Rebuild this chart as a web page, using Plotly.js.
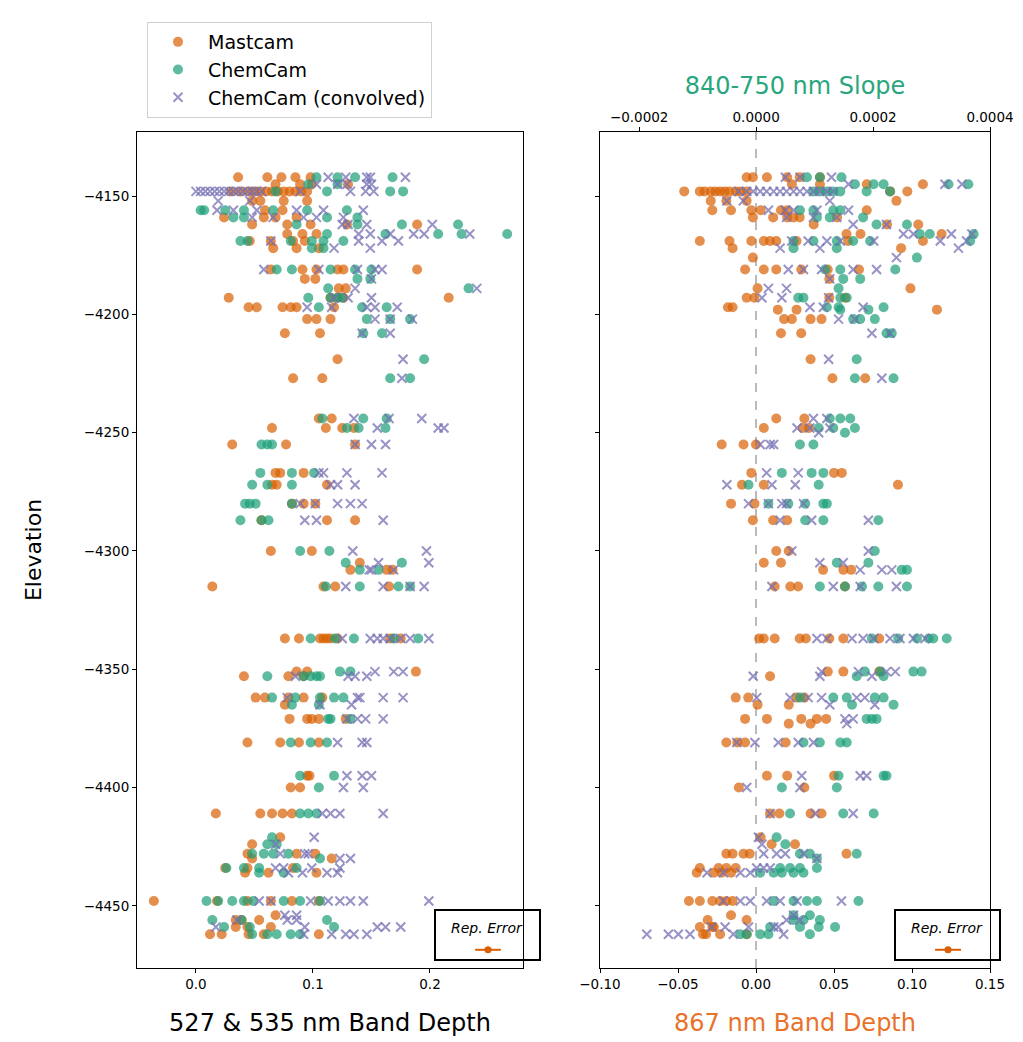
<!DOCTYPE html>
<html>
<head>
<meta charset="utf-8">
<script src="https://cdn.plot.ly/plotly-3.0.1.min.js"></script>
<style>html,body{margin:0;padding:0;background:#fff;}#chart{width:1023px;height:1042px;}</style>
</head>
<body>
<div id="chart"></div>
<script>
// ---- DATA: rows of [elevation, [values at that elevation]] ----
// Left panel: 527 & 535 nm band depth
const mastcamBD527 = [
[-4142,[0.036,0.061,0.073,0.085,0.098]],
[-4145,[0.068,0.089,0.099,0.130]],
[-4148,[0.030,0.038,0.045,0.050,0.055,0.060,0.065,0.070,0.075,0.080,0.085,0.090,0.095]],
[-4152,[0.048,0.055,0.075,0.095]],
[-4156,[0.059,0.074]],
[-4159,[0.024,0.058,0.068,0.086]],
[-4162,[0.048,0.078,0.098,0.129,0.189]],
[-4166,[0.078,0.091,0.103]],
[-4169,[0.046,0.064,0.083,0.093]],
[-4172,[0.066,0.086,0.105]],
[-4181,[0.064,0.091,0.103,0.121,0.126,0.189]],
[-4185,[0.093,0.102]],
[-4189,[0.122,0.128]],
[-4193,[0.028,0.115,0.121,0.126,0.216]],
[-4197,[0.045,0.052,0.074,0.081,0.086,0.118]],
[-4202,[0.095,0.103,0.115]],
[-4208,[0.076,0.106]],
[-4219,[0.121]],
[-4227,[0.083,0.108]],
[-4244,[0.105,0.116]],
[-4248,[0.065,0.111,0.125,0.135]],
[-4255,[0.031,0.077,0.136]],
[-4267,[0.068,0.072,0.092]],
[-4272,[0.065,0.069,0.112]],
[-4280,[0.082,0.092,0.102]],
[-4287,[0.056,0.112,0.136]],
[-4300,[0.064,0.099]],
[-4305,[0.140]],
[-4308,[0.132,0.163,0.168]],
[-4315,[0.014,0.109,0.119,0.165]],
[-4337,[0.076,0.088,0.106,0.109,0.112,0.115,0.121,0.166,0.175]],
[-4351,[0.086,0.095,0.188]],
[-4353,[0.041,0.079,0.092]],
[-4362,[0.051,0.059,0.079,0.092,0.108]],
[-4365,[0.076]],
[-4371,[0.080,0.095,0.099,0.105,0.128]],
[-4381,[0.044,0.072,0.088,0.105]],
[-4395,[0.095,0.097]],
[-4400,[0.081,0.089]],
[-4411,[0.017,0.055,0.065,0.074,0.082]],
[-4421,[0.072]],
[-4424,[0.048]],
[-4428,[0.044,0.086,0.102]],
[-4430,[0.048,0.116]],
[-4434,[0.025,0.044,0.083]],
[-4436,[0.042,0.062,0.103]],
[-4448,[-0.036,0.018,0.044,0.064,0.082,0.105]],
[-4454,[0.068]],
[-4456,[0.034,0.039,0.054]],
[-4459,[0.034,0.044,0.064]],
[-4462,[0.012,0.022,0.045,0.058,0.105]]
];
const chemcamBD527 = [
[-4142,[0.103,0.121,0.136,0.168]],
[-4145,[0.096,0.121]],
[-4148,[0.068,0.112,0.166,0.177]],
[-4156,[0.004,0.007,0.025,0.041,0.066,0.095,0.129]],
[-4159,[0.032,0.041,0.112,0.138]],
[-4162,[0.086,0.138,0.176,0.224]],
[-4166,[0.112,0.162,0.207,0.227,0.266]],
[-4169,[0.038,0.044,0.081,0.099,0.109,0.126]],
[-4172,[0.099,0.109]],
[-4181,[0.069,0.082,0.115,0.136,0.150]],
[-4185,[0.138,0.149]],
[-4189,[0.113,0.233]],
[-4193,[0.096,0.115,0.121,0.125]],
[-4197,[0.105,0.142,0.163]],
[-4202,[0.146,0.166,0.183]],
[-4208,[0.143,0.159]],
[-4219,[0.195]],
[-4227,[0.166,0.183]],
[-4244,[0.108,0.143,0.163]],
[-4248,[0.129,0.139,0.162]],
[-4255,[0.056,0.061,0.065]],
[-4267,[0.055,0.082,0.101]],
[-4272,[0.048,0.061,0.082]],
[-4280,[0.042,0.046,0.051,0.082]],
[-4287,[0.038,0.056,0.062]],
[-4300,[0.089,0.114]],
[-4305,[0.128,0.176]],
[-4308,[0.140,0.156]],
[-4315,[0.111,0.140,0.173,0.183]],
[-4337,[0.098,0.119,0.135,0.169,0.190]],
[-4351,[0.123,0.132]],
[-4353,[0.061,0.092,0.098,0.103,0.106]],
[-4362,[0.065,0.085,0.106,0.118,0.126]],
[-4365,[0.082,0.105]],
[-4371,[0.113,0.115,0.132]],
[-4381,[0.081,0.098,0.112]],
[-4395,[0.089,0.118]],
[-4400,[0.105]],
[-4411,[0.089,0.096,0.103]],
[-4421,[0.065]],
[-4424,[0.061,0.069]],
[-4428,[0.048,0.058,0.066,0.079]],
[-4430,[0.106]],
[-4434,[0.026,0.041,0.054,0.086]],
[-4436,[0.054,0.075]],
[-4448,[0.009,0.019,0.031,0.041,0.049,0.075,0.089,0.106]],
[-4456,[0.014,0.039,0.112]],
[-4459,[0.024,0.046,0.118]],
[-4462,[0.048,0.061,0.069,0.081,0.089]]
];
const convolvedBD527 = [
[-4142,[0.113,0.128,0.146,0.149,0.179]],
[-4145,[0.103,0.121,0.129,0.146,0.150]],
[-4148,[0.000,0.004,0.008,0.012,0.016,0.020,0.024,0.028,0.032,0.036,0.040,0.044,0.048,0.052,0.056,0.089,0.132,0.145,0.152]],
[-4152,[0.019,0.046]],
[-4156,[0.018,0.032,0.052,0.086,0.109,0.143]],
[-4159,[0.048,0.066,0.092,0.103,0.126]],
[-4162,[0.125,0.130,0.146,0.202]],
[-4166,[0.139,0.149,0.166,0.186,0.195,0.234]],
[-4169,[0.064,0.139,0.159,0.173]],
[-4172,[0.118,0.149]],
[-4181,[0.058,0.105,0.138,0.153,0.159]],
[-4185,[0.150]],
[-4189,[0.136,0.240]],
[-4193,[0.118,0.130,0.150]],
[-4197,[0.095,0.116,0.146,0.153,0.172]],
[-4202,[0.153,0.166,0.185]],
[-4208,[0.142,0.166]],
[-4219,[0.177]],
[-4227,[0.176]],
[-4244,[0.135,0.165,0.193]],
[-4248,[0.155,0.207,0.212]],
[-4255,[0.136,0.150,0.162]],
[-4267,[0.105,0.109,0.129,0.159]],
[-4272,[0.115,0.121,0.136]],
[-4280,[0.089,0.102,0.121,0.132,0.142]],
[-4287,[0.093,0.103,0.160]],
[-4300,[0.134,0.197]],
[-4305,[0.156,0.199]],
[-4308,[0.148,0.150,0.169]],
[-4315,[0.128,0.160,0.183,0.195]],
[-4337,[0.125,0.149,0.155,0.160,0.166,0.175,0.183,0.199]],
[-4351,[0.153,0.169,0.177]],
[-4353,[0.085,0.130,0.136,0.146]],
[-4362,[0.078,0.138,0.140,0.160,0.177]],
[-4365,[0.106,0.133]],
[-4371,[0.129,0.138,0.145,0.160]],
[-4381,[0.121,0.142,0.146]],
[-4395,[0.129,0.142,0.150]],
[-4400,[0.126,0.143]],
[-4411,[0.108,0.115,0.123,0.160]],
[-4421,[0.101]],
[-4424,[0.068]],
[-4428,[0.072,0.093,0.096]],
[-4430,[0.123,0.132]],
[-4434,[0.068,0.075,0.099,0.123]],
[-4436,[0.079,0.091,0.112,0.121]],
[-4448,[0.054,0.064,0.098,0.113,0.123,0.132,0.143,0.199]],
[-4454,[0.076,0.086]],
[-4456,[0.035,0.078,0.086]],
[-4459,[0.017,0.093,0.155,0.162,0.175]],
[-4462,[0.092,0.116,0.128,0.135,0.146]]
];
// Right panel: Mastcam 867 nm band depth (bottom axis)
const mastcamBD867 = [
[-4142,[-0.006,-0.002,0.007,0.020,0.028,0.041]],
[-4145,[0.023,0.041,0.071,0.107]],
[-4148,[-0.046,-0.036,-0.033,-0.029,-0.026,-0.023,-0.020,-0.017,-0.013,-0.010,-0.006,0.086,0.097]],
[-4152,[-0.029,-0.019,-0.006,0.090]],
[-4156,[-0.028,-0.016,-0.003,0.003,0.016,0.020,0.071]],
[-4159,[-0.002,0.011,0.020,0.024,0.028,0.052]],
[-4162,[0.037,0.084,0.104]],
[-4166,[0.058,0.067,0.119]],
[-4169,[-0.036,-0.017,-0.003,0.005,0.009,0.013,0.026,0.059,0.107]],
[-4172,[-0.015,0.093]],
[-4176,[-0.002]],
[-4181,[-0.007,0.005,0.013,0.029,0.046,0.066]],
[-4185,[0.047]],
[-4189,[0.001,0.099]],
[-4193,[-0.006,-0.001,0.047,0.057]],
[-4197,[-0.018,-0.015]],
[-4198,[0.014,0.026,0.116]],
[-4202,[0.018,0.023,0.035,0.042]],
[-4208,[0.016,0.029]],
[-4219,[0.035]],
[-4227,[0.049,0.070]],
[-4244,[0.013,0.031]],
[-4248,[0.005,0.030,0.034]],
[-4255,[-0.022,-0.008,0.000]],
[-4267,[-0.003,0.050,0.055]],
[-4272,[-0.009,0.005,0.091]],
[-4280,[-0.016,-0.001]],
[-4287,[-0.002,0.011,0.020]],
[-4300,[0.013,0.021]],
[-4305,[0.005,0.016]],
[-4308,[0.043,0.056,0.061]],
[-4315,[0.012,0.022,0.027,0.057]],
[-4337,[0.002,0.005,0.012,0.028,0.032,0.047,0.056,0.079]],
[-4351,[0.046,0.056,0.079]],
[-4353,[0.009]],
[-4362,[-0.013,-0.005,0.026,0.031]],
[-4365,[0.001,0.021]],
[-4371,[-0.007,0.007,0.029,0.039,0.045]],
[-4373,[0.021,0.035]],
[-4381,[-0.019,-0.012,-0.007,0.019]],
[-4395,[0.007,0.020,0.050]],
[-4400,[-0.011,0.031]],
[-4411,[0.009,0.015,0.035,0.042]],
[-4421,[0.003]],
[-4424,[0.010,0.025]],
[-4428,[-0.019,-0.015,-0.008,-0.004,0.058]],
[-4434,[-0.036,-0.024,-0.019,-0.013]],
[-4436,[-0.038,-0.027,-0.022,-0.016]],
[-4448,[-0.043,-0.036,-0.028,-0.023,-0.019,-0.015]],
[-4454,[-0.016]],
[-4456,[-0.031,-0.006]],
[-4459,[-0.036,-0.028,-0.027]],
[-4462,[-0.034,-0.032,-0.023,-0.006]]
];
// Right panel: ChemCam 840-750 nm slope (top axis)
const chemcamSlope = [
[-4142,[0.87e-4,1.09e-4,1.46e-4]],
[-4145,[1.69e-4,2.01e-4,2.18e-4,3.29e-4,3.63e-4]],
[-4148,[0.98e-4,1.09e-4,1.21e-4,1.32e-4,1.44e-4,1.89e-4,2.29e-4]],
[-4156,[0.75e-4,0.98e-4,1.32e-4,1.44e-4]],
[-4159,[1.04e-4,1.26e-4,1.83e-4]],
[-4162,[2.06e-4,2.58e-4]],
[-4166,[2.80e-4,2.97e-4,3.72e-4]],
[-4169,[0.64e-4,0.98e-4,1.38e-4,1.66e-4,1.95e-4,3.66e-4]],
[-4172,[0.64e-4,1.38e-4]],
[-4176,[2.75e-4]],
[-4181,[1.18e-4,1.44e-4,2.38e-4]],
[-4185,[1.49e-4,1.78e-4]],
[-4189,[1.41e-4]],
[-4193,[0.72e-4,0.81e-4,1.44e-4,1.55e-4]],
[-4197,[1.21e-4,1.41e-4,2.18e-4]],
[-4198,[1.44e-4,1.92e-4]],
[-4202,[1.66e-4,1.78e-4,2.03e-4]],
[-4208,[2.23e-4,2.32e-4]],
[-4219,[1.72e-4]],
[-4227,[1.69e-4,2.35e-4]],
[-4244,[1.26e-4,1.44e-4,1.61e-4]],
[-4248,[1.07e-4,1.32e-4,1.69e-4]],
[-4250,[1.52e-4]],
[-4255,[0.75e-4,0.98e-4]],
[-4267,[0.44e-4,0.95e-4,1.15e-4]],
[-4272,[-0.13e-4,1.07e-4]],
[-4280,[0.21e-4,0.55e-4,0.84e-4,1.15e-4,1.21e-4]],
[-4287,[0.84e-4,1.15e-4,2.09e-4]],
[-4300,[2.03e-4]],
[-4305,[1.38e-4,1.92e-4]],
[-4308,[2.49e-4,2.58e-4]],
[-4315,[1.09e-4,1.52e-4,1.81e-4,2.09e-4,2.58e-4]],
[-4337,[1.98e-4,2.43e-4,2.75e-4,2.95e-4,3.03e-4,3.26e-4]],
[-4351,[1.86e-4,2.12e-4,2.69e-4,2.83e-4]],
[-4353,[1.72e-4,2.18e-4]],
[-4362,[0.75e-4,1.32e-4,1.55e-4,2.03e-4,2.18e-4]],
[-4365,[1.64e-4,2.35e-4]],
[-4371,[1.89e-4,1.98e-4,2.06e-4]],
[-4381,[0.81e-4,1.09e-4,1.44e-4,1.55e-4]],
[-4395,[1.41e-4,2.18e-4,2.23e-4]],
[-4400,[0.44e-4,1.38e-4]],
[-4411,[0.58e-4,1.49e-4,2.01e-4]],
[-4421,[0.35e-4]],
[-4424,[0.50e-4]],
[-4428,[0.75e-4,0.92e-4,1.72e-4]],
[-4430,[1.04e-4]],
[-4434,[0.41e-4,0.58e-4,0.75e-4,1.04e-4]],
[-4436,[0.07e-4,0.30e-4,0.44e-4,0.64e-4,0.81e-4]],
[-4448,[0.30e-4,0.64e-4,0.87e-4,1.04e-4,1.75e-4]],
[-4454,[0.64e-4,0.92e-4]],
[-4456,[0.64e-4,0.81e-4,1.09e-4]],
[-4459,[0.24e-4,0.75e-4,1.07e-4,1.35e-4]],
[-4462,[-0.27e-4,-0.16e-4,0.07e-4,0.21e-4,0.92e-4]]
];
const convolvedSlope = [
[-4142,[0.50e-4,0.75e-4,1.29e-4]],
[-4145,[1.58e-4,3.23e-4,3.52e-4]],
[-4148,[-0.30e-4,-0.16e-4,-0.05e-4,0.07e-4,0.18e-4,0.30e-4,0.41e-4,0.52e-4,0.64e-4,0.75e-4,0.87e-4,0.98e-4,1.09e-4,1.21e-4,1.32e-4]],
[-4152,[-0.50e-4,-0.22e-4,1.26e-4]],
[-4156,[0.21e-4,0.50e-4,0.64e-4,1.04e-4,1.58e-4]],
[-4159,[0.52e-4,0.98e-4,1.38e-4]],
[-4162,[1.66e-4,2.23e-4]],
[-4166,[2.52e-4,2.69e-4,3.34e-4,3.69e-4]],
[-4169,[0.61e-4,0.89e-4,1.21e-4,1.44e-4,2.01e-4,3.15e-4,3.60e-4]],
[-4172,[0.41e-4,1.09e-4,3.46e-4]],
[-4176,[2.40e-4]],
[-4181,[0.55e-4,0.81e-4,1.12e-4,1.66e-4,2.06e-4]],
[-4185,[1.26e-4]],
[-4189,[0.21e-4,0.52e-4]],
[-4193,[0.10e-4,0.44e-4,1.24e-4]],
[-4197,[0.92e-4,1.15e-4,1.83e-4]],
[-4202,[1.41e-4,1.69e-4]],
[-4208,[1.98e-4,2.29e-4]],
[-4219,[1.24e-4]],
[-4227,[2.15e-4]],
[-4244,[0.98e-4,1.21e-4]],
[-4248,[0.70e-4,0.92e-4,1.26e-4]],
[-4250,[1.07e-4]],
[-4255,[0.07e-4,0.24e-4,0.30e-4]],
[-4267,[0.18e-4,0.72e-4]],
[-4272,[-0.50e-4,0.27e-4,0.67e-4]],
[-4280,[-0.13e-4,0.21e-4,0.44e-4,0.52e-4,0.81e-4]],
[-4287,[0.41e-4,0.95e-4,1.92e-4]],
[-4300,[0.61e-4,1.92e-4]],
[-4305,[1.09e-4,1.49e-4]],
[-4308,[1.78e-4,2.15e-4,2.32e-4]],
[-4315,[0.27e-4,1.32e-4,1.78e-4,2.40e-4]],
[-4337,[1.04e-4,1.21e-4,1.64e-4,1.83e-4,2.01e-4,2.29e-4,2.46e-4,2.69e-4,2.89e-4]],
[-4351,[1.12e-4,1.75e-4,2.23e-4,2.38e-4]],
[-4353,[-0.05e-4,1.09e-4,1.98e-4]],
[-4362,[0.01e-4,0.58e-4,0.89e-4,1.12e-4,1.72e-4,1.86e-4]],
[-4365,[1.26e-4,2.03e-4]],
[-4371,[1.52e-4,1.66e-4]],
[-4373,[1.55e-4]],
[-4381,[-0.33e-4,-0.02e-4,0.38e-4,0.72e-4,0.98e-4]],
[-4395,[0.78e-4,1.78e-4,1.89e-4]],
[-4400,[-0.16e-4,0.75e-4]],
[-4411,[0.24e-4,1.01e-4,1.66e-4]],
[-4421,[0.04e-4]],
[-4424,[0.10e-4]],
[-4428,[0.13e-4,0.35e-4,0.50e-4,0.81e-4]],
[-4430,[1.04e-4]],
[-4434,[0.01e-4,0.13e-4,0.24e-4]],
[-4436,[-0.84e-4,-0.56e-4,-0.27e-4,-0.10e-4]],
[-4448,[-0.56e-4,-0.27e-4,-0.10e-4,0.18e-4,0.41e-4,0.70e-4,1.46e-4]],
[-4454,[0.64e-4]],
[-4456,[0.52e-4,0.75e-4]],
[-4459,[-0.76e-4,-0.53e-4,-0.13e-4,0.30e-4,0.38e-4]],
[-4462,[-1.87e-4,-1.50e-4,-1.33e-4,-1.13e-4,-0.39e-4,0.47e-4]]
];
// Representative errors (half-widths) shown in the inset boxes
const repErrorBD527 = 0.011;
const repErrorBD867 = 0.0083;

const seriesNames = ['Mastcam', 'ChemCam', 'ChemCam (convolved)'];
const seriesColors = ['#d95f02', '#1b9e77', '#7570b3'];

// ---- helpers ----
function flatten(rows) {
  const x = [], y = [];
  rows.forEach(([elev, vals]) => vals.forEach(v => { x.push(v); y.push(elev); }));
  return {x, y};
}
const circle = c => ({color: c, size: 10, opacity: 0.7, line: {width: 0}});
const cross = c => ({color: c, size: 9, symbol: 'x-thin', opacity: 0.75, line: {width: 2, color: c}});
function tr(rows, i, xa, ya, legend) {
  const d = flatten(rows);
  return {type: 'scatter', mode: 'markers', x: d.x, y: d.y, xaxis: xa, yaxis: ya,
    name: seriesNames[i], showlegend: legend, legendgroup: 'g' + i,
    marker: i === 2 ? cross(seriesColors[i]) : circle(seriesColors[i]), hoverinfo: 'skip'};
}

// inset positions (layout only)
const insetY = -4468.6;
const insetXLeft = 0.2496, insetXRight = 0.1231;

const traces = [
  tr(mastcamBD527, 0, 'x', 'y', true),
  tr(chemcamBD527, 1, 'x', 'y', true),
  tr(convolvedBD527, 2, 'x', 'y', true),
  tr(mastcamBD867, 0, 'x2', 'y2', false),
  tr(chemcamSlope, 1, 'x3', 'y2', false),
  tr(convolvedSlope, 2, 'x3', 'y2', false),
  {type: 'scatter', mode: 'markers', x: [insetXLeft], y: [insetY], xaxis: 'x', yaxis: 'y', showlegend: false,
   marker: {color: '#d95f02', size: 7}, error_x: {type: 'data', array: [repErrorBD527], color: '#d95f02', thickness: 2, width: 0}, hoverinfo: 'skip', cliponaxis: false},
  {type: 'scatter', mode: 'markers', x: [insetXRight], y: [insetY], xaxis: 'x2', yaxis: 'y2', showlegend: false,
   marker: {color: '#d95f02', size: 7}, error_x: {type: 'data', array: [repErrorBD867], color: '#d95f02', thickness: 2, width: 0}, hoverinfo: 'skip', cliponaxis: false}
];

const W = 1023, H = 1042;
const px = v => v / W, py = v => 1 - v / H;
const font = 'DejaVu Sans, sans-serif';
const tickFont = {family: font, size: 13.5, color: '#000'};
const yDom = [py(968), py(132)];
const frame = {showline: true, linecolor: '#000', linewidth: 1, mirror: true, ticks: 'outside', ticklen: 4,
  tickcolor: '#000', showgrid: false, zeroline: false, tickfont: tickFont};
const yVals = [-4150, -4200, -4250, -4300, -4350, -4400, -4450];
const yRange = [-4476.3, -4122.9];

const layout = {
  width: W, height: H, margin: {l: 0, r: 0, t: 0, b: 0}, paper_bgcolor: '#fff', plot_bgcolor: '#fff',
  font: {family: font, color: '#000'}, hovermode: false,
  xaxis: Object.assign({}, frame, {domain: [px(137), px(523)], anchor: 'y', range: [-0.0504, 0.2795],
    tickvals: [0, 0.1, 0.2], tickformat: '.1f',
    title: {text: '527 & 535 nm Band Depth', standoff: 22, font: {family: font, size: 24, color: '#000'}}}),
  yaxis: Object.assign({}, frame, {domain: yDom, anchor: 'x', range: yRange, tickvals: yVals,
    title: {text: 'Elevation', standoff: 35, font: {family: font, size: 22, color: '#000'}}}),
  xaxis2: Object.assign({}, frame, {domain: [px(600), px(990)], anchor: 'y2', range: [-0.1, 0.15],
    tickvals: [-0.1, -0.05, 0, 0.05, 0.1, 0.15], tickformat: '.2f', mirror: false,
    title: {text: '867 nm Band Depth', standoff: 22, font: {family: font, size: 24, color: '#e8722a'}}}),
  xaxis3: Object.assign({}, frame, {overlaying: 'x2', anchor: 'y2', side: 'top', range: [-0.000267, 0.0004],
    tickvals: [-0.0002, 0, 0.0002, 0.0004], tickformat: '.4f', mirror: false,
    title: {text: '840-750 nm Slope', standoff: 7, font: {family: font, size: 24, color: '#2aa67e'}}}),
  yaxis2: Object.assign({}, frame, {domain: yDom, anchor: 'x2', range: yRange, tickvals: yVals, showticklabels: false}),
  legend: {x: px(147), y: py(22), xanchor: 'left', yanchor: 'top', bgcolor: '#fff', bordercolor: '#d0d0d0', borderwidth: 1,
    font: {family: font, size: 19, color: '#000'}, itemwidth: 50, tracegroupgap: 0},
  shapes: [
    {type: 'line', xref: 'x2', yref: 'y2 domain', x0: 0, x1: 0, y0: 0, y1: 1, line: {color: '#777', width: 1, dash: 'dash'}, layer: 'below'},
    {type: 'rect', xref: 'paper', yref: 'paper', x0: px(435), x1: px(540), y0: py(960), y1: py(910), line: {color: '#000', width: 2}, fillcolor: 'rgba(0,0,0,0)', layer: 'above'},
    {type: 'rect', xref: 'paper', yref: 'paper', x0: px(895), x1: px(1000), y0: py(960), y1: py(910), line: {color: '#000', width: 2}, fillcolor: 'rgba(0,0,0,0)', layer: 'above'}
  ],
  annotations: [
    {xref: 'paper', yref: 'paper', x: px(487), y: py(928), xanchor: 'center', yanchor: 'middle', text: '<i>Rep. Error</i>', showarrow: false, font: {family: font, size: 14, color: '#000'}},
    {xref: 'paper', yref: 'paper', x: px(947), y: py(928), xanchor: 'center', yanchor: 'middle', text: '<i>Rep. Error</i>', showarrow: false, font: {family: font, size: 14, color: '#000'}}
  ]
};

Plotly.newPlot('chart', traces, layout, {displayModeBar: false, staticPlot: true});
</script>
</body>
</html>
